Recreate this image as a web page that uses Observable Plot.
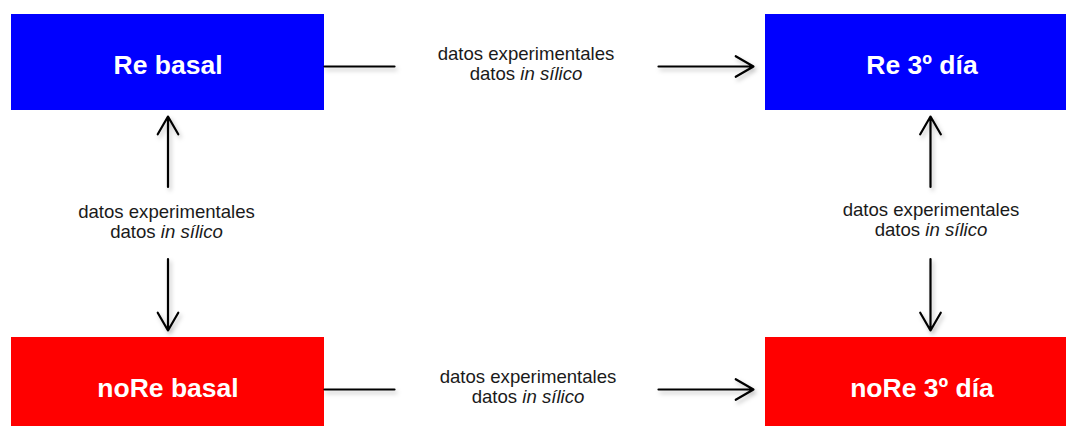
<!DOCTYPE html>
<html>
<head>
<meta charset="utf-8">
<script src="https://cdn.jsdelivr.net/npm/d3@7"></script>
<script src="https://cdn.jsdelivr.net/npm/@observablehq/plot@0.6"></script>
<style>
  html, body { margin: 0; padding: 0; background: #ffffff; overflow: hidden; }
  #chart svg { display: block; }
</style>
</head>
<body>
<div id="chart"></div>
<script>
// ---- data ----
const times = ["basal", "3º día"];
const groups = ["Re", "noRe"];
const groupColors = ["#0000ff", "#ff0000"];

const nodeLabels = ["Re basal", "Re 3º día", "noRe basal", "noRe 3º día"];
const nodeGroup  = ["Re", "Re", "noRe", "noRe"];
const nodeTime   = ["basal", "3º día", "basal", "3º día"];

const linkFrom   = ["Re basal", "noRe basal", "noRe basal", "noRe 3º día"];
const linkTo     = ["Re 3º día", "noRe 3º día", "Re basal", "Re 3º día"];
const linkTwoWay = [false, false, true, true];
const linkLines  = ["datos experimentales", "datos in sílico"];
const italicPart = "in sílico";

// ---- layout / style (not data) ----
const boxHalfW = 156.5, boxHalfH = 48;
const headLen = 14, lineW = 2.2;
const insets = {
  left:  {start: 150.5, end: 156.5},
  right: {start: 113.5, end: 168.5},
  up:    {start: 37,    end: 54},
  down:  {start: 35,    end: 55}
};
const linkArrowDx = [0, 0, 0, 8.5];
const linkArrowDy = [4, 4, 0, 0];
const linkTextDx  = [-19, -17, -1.5, 9];
const linkTextDy  = [1, 1, -2.7, -4.4];

// ---- build tables ----
const nodes = nodeLabels.map((label, i) => ({
  label, group: nodeGroup[i], time: nodeTime[i],
  col: times.indexOf(nodeTime[i]), row: groups.indexOf(nodeGroup[i])
}));
const byLabel = new Map(nodes.map(d => [d.label, d]));
const links = linkFrom.map((f, i) => {
  const a = byLabel.get(f), b = byLabel.get(linkTo[i]);
  return {
    i, a, b, twoWay: linkTwoWay[i],
    xm: (a.col + b.col) / 2, ym: (a.row + b.row) / 2,
    label: linkLines.join("\n")
  };
});

function dir(from, to) {
  if (from.row === to.row) return to.col > from.col ? "right" : "left";
  return to.row < from.row ? "up" : "down";
}

const linkMarks = links.flatMap(l => {
  const marks = [];
  const dA = dir(l.b, l.a);
  marks.push(Plot.arrow([l], {
    x1: "xm", y1: "ym", x2: d => d.a.col, y2: d => d.a.row,
    stroke: "#000", strokeWidth: lineW,
    headLength: l.twoWay ? headLen : 0, headAngle: 60,
    insetStart: insets[dA].start, insetEnd: insets[dA].end,
    dx: linkArrowDx[l.i], dy: linkArrowDy[l.i]
  }));
  const dB = dir(l.a, l.b);
  marks.push(Plot.arrow([l], {
    x1: "xm", y1: "ym", x2: d => d.b.col, y2: d => d.b.row,
    stroke: "#000", strokeWidth: lineW,
    headLength: headLen, headAngle: 60,
    insetStart: insets[dB].start, insetEnd: insets[dB].end,
    dx: linkArrowDx[l.i], dy: linkArrowDy[l.i]
  }));
  marks.push(Plot.text([l], {
    x: "xm", y: "ym", text: "label",
    fill: "#1a1a1a", fontSize: 18.6, lineHeight: 1.075,
    dx: linkTextDx[l.i], dy: linkTextDy[l.i]
  }));
  return marks;
});

const chart = Plot.plot({
  width: 1066,
  height: 426,
  marginTop: 0, marginRight: 0, marginBottom: 0, marginLeft: 0,
  style: {fontFamily: "'Liberation Sans', Arial, Helvetica, sans-serif", background: "#ffffff", overflow: "visible"},
  x: {domain: [0, 1], range: [167.5, 921.5], axis: null},
  y: {domain: [0, 1], range: [62, 385], axis: null},
  color: {domain: groups, range: groupColors},
  marks: [
    Plot.rect(nodes, {
      x1: "col", x2: "col", y1: "row", y2: "row", fill: "group",
      insetLeft: -boxHalfW, insetRight: -boxHalfW, insetTop: -boxHalfH, insetBottom: -boxHalfH
    }),
    Plot.text(nodes, {
      x: "col", y: "row", text: "label", fill: "white",
      fontSize: 26.5, fontWeight: "bold", dy: 3
    }),
    ...linkMarks
  ]
});

document.getElementById("chart").appendChild(chart);

// italic "in sílico"
d3.select(chart).selectAll("tspan").each(function() {
  const t = this.textContent;
  const k = t.indexOf(italicPart);
  if (k >= 0 && this.childElementCount === 0) {
    const before = t.slice(0, k), after = t.slice(k + italicPart.length);
    this.textContent = before;
    const it = document.createElementNS("http://www.w3.org/2000/svg", "tspan");
    it.setAttribute("font-style", "italic");
    it.textContent = italicPart;
    this.appendChild(it);
    if (after) this.appendChild(document.createTextNode(after));
  }
});
// soft shadow under arrows
d3.select(chart).selectAll("g[aria-label='arrow']")
  .style("filter", "drop-shadow(2px 3px 2px rgba(0,0,0,0.25))");
</script>
</body>
</html>
